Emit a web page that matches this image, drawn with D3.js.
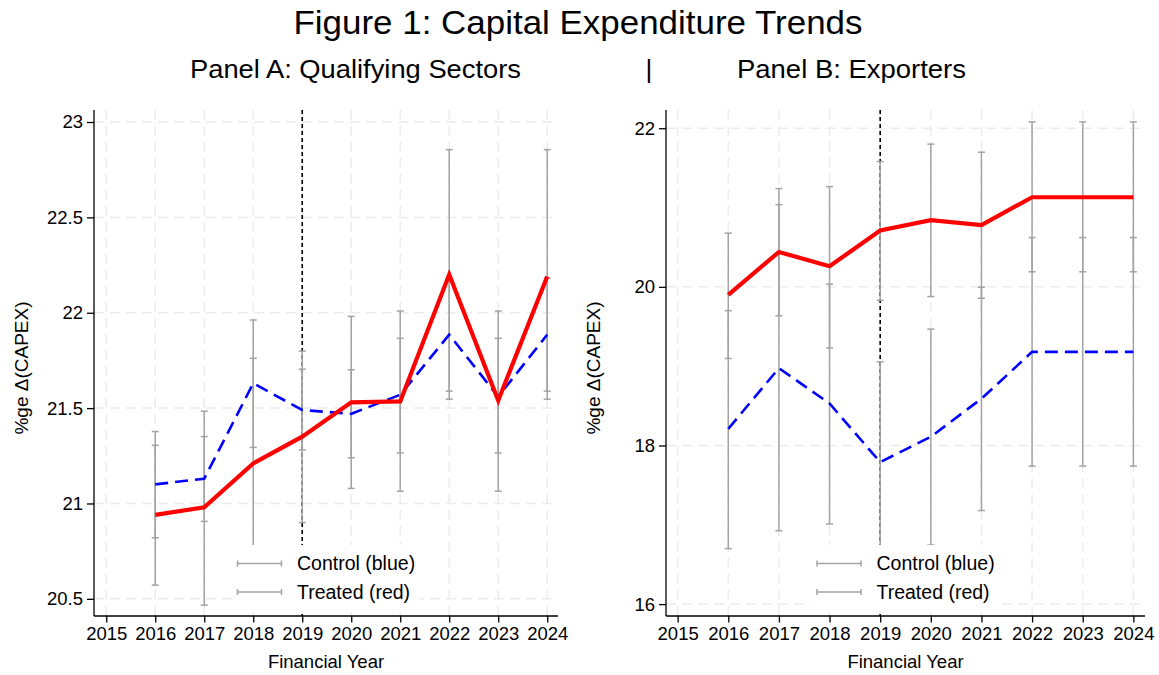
<!DOCTYPE html>
<html>
<head>
<meta charset="utf-8">
<script src="https://cdn.jsdelivr.net/npm/d3@7"></script>
<style>
  body { margin: 0; background: #fff; }
  text { font-family: "Liberation Sans", Arial, sans-serif; fill: #000; }
</style>
</head>
<body>
<div class="chart"></div>
<script>
// data
var years = [2016, 2017, 2018, 2019, 2020, 2021, 2022, 2023, 2024];
var xTicks = [2015, 2016, 2017, 2018, 2019, 2020, 2021, 2022, 2023, 2024];

// Panel A: Qualifying Sectors
var ctrlA   = [21.10, 21.13, 21.63, 21.49, 21.47, 21.57, 21.885, 21.56, 21.885];
var ctrlALo = [20.82, 20.906, 21.294, 21.281, 21.24, 21.265, 21.589, 21.265, 21.589];
var ctrlAHi = [21.377, 21.351, 21.962, 21.704, 21.701, 21.866, 22.181, 21.866, 22.181];
var treatA   = [20.94, 20.98, 21.21, 21.35, 21.53, 21.535, 22.20, 21.54, 22.19];
var treatALo = [20.572, 20.467, 20.653, 20.90, 21.079, 21.064, 21.547, 21.064, 21.547];
var treatAHi = [21.305, 21.484, 21.761, 21.799, 21.981, 22.009, 22.855, 22.009, 22.855];
var yTicksA = [20.5, 21, 21.5, 22, 22.5, 23];

// Panel B: Exporters
var ctrlB   = [18.21, 18.975, 18.53, 17.79, 18.11, 18.59, 19.18, 19.18, 19.18];
var ctrlBLo = [16.70, 16.925, 17.01, 16.525, 16.745, 17.18, 17.74, 17.74, 17.74];
var ctrlBHi = [19.70, 21.037, 20.034, 19.055, 19.467, 19.996, 20.622, 20.622, 20.622];
var treatB   = [19.90, 20.44, 20.26, 20.71, 20.84, 20.78, 21.13, 21.13, 21.13];
var treatBLo = [19.097, 19.635, 19.23, 19.83, 19.878, 19.857, 20.19, 20.19, 20.19];
var treatBHi = [20.677, 21.239, 21.264, 21.58, 21.80, 21.698, 22.08, 22.08, 22.08];
var yTicksB = [16, 18, 20, 22];

var legendLabels = ["Control (blue)", "Treated (red)"];
var eventYear = 2019;

var svgWidth = 1159;
var svgHeight = 675;

var svg = d3.select(".chart")
    .append("svg")
    .attr("width", svgWidth)
    .attr("height", svgHeight);

// titles
svg.append("text")
    .attr("x", 578)
    .attr("y", 34)
    .attr("text-anchor", "middle")
    .style("font-size", "34px")
    .attr("textLength", 569)
    .attr("lengthAdjust", "spacingAndGlyphs")
    .text("Figure 1: Capital Expenditure Trends");

svg.append("text")
    .attr("x", 355.5)
    .attr("y", 78)
    .attr("text-anchor", "middle")
    .style("font-size", "26px")
    .attr("textLength", 331)
    .attr("lengthAdjust", "spacingAndGlyphs")
    .text("Panel A: Qualifying Sectors");

svg.append("text")
    .attr("x", 649)
    .attr("y", 78)
    .attr("text-anchor", "middle")
    .style("font-size", "26px")
    .text("|");

svg.append("text")
    .attr("x", 851.5)
    .attr("y", 78)
    .attr("text-anchor", "middle")
    .style("font-size", "26px")
    .attr("textLength", 229)
    .attr("lengthAdjust", "spacingAndGlyphs")
    .text("Panel B: Exporters");

function drawPanel(p) {
    var x = d3.scaleLinear().domain(p.xDomain).range([p.left, p.right]);
    var y = d3.scaleLinear().domain(p.yDomain).range([p.bottom, p.top]);
    var g = svg.append("g");

    // dashed grid
    g.selectAll(".hgrid")
        .data(p.yTicks)
        .enter()
        .append("line")
        .attr("x1", p.left)
        .attr("x2", p.right)
        .attr("y1", d => y(d))
        .attr("y2", d => y(d))
        .attr("stroke", "#ececec")
        .attr("stroke-width", 1.5)
        .attr("stroke-dasharray", "10,6");

    g.selectAll(".vgrid")
        .data(xTicks)
        .enter()
        .append("line")
        .attr("x1", d => x(d))
        .attr("x2", d => x(d))
        .attr("y1", p.top)
        .attr("y2", p.bottom)
        .attr("stroke", "#ececec")
        .attr("stroke-width", 1.5)
        .attr("stroke-dasharray", "10,6");

    // event line
    g.append("line")
        .attr("x1", x(eventYear))
        .attr("x2", x(eventYear))
        .attr("y1", p.top)
        .attr("y2", p.bottom)
        .attr("stroke", "#000")
        .attr("stroke-width", 1.6)
        .attr("stroke-dasharray", "4,3");

    // error bars
    function bars(lo, hi) {
        years.forEach(function(yr, i) {
            var cx = x(yr);
            g.append("line")
                .attr("x1", cx).attr("x2", cx)
                .attr("y1", y(lo[i])).attr("y2", y(hi[i]))
                .attr("stroke", "#a3a3a3")
                .attr("stroke-width", 1.5);
            [lo[i], hi[i]].forEach(function(v) {
                g.append("line")
                    .attr("x1", cx - 3.5).attr("x2", cx + 3.5)
                    .attr("y1", y(v)).attr("y2", y(v))
                    .attr("stroke", "#a3a3a3")
                    .attr("stroke-width", 1.5);
            });
        });
    }
    bars(p.ctrlLo, p.ctrlHi);
    bars(p.treatLo, p.treatHi);

    var line = d3.line()
        .x(d => x(d[0]))
        .y(d => y(d[1]));

    g.append("path")
        .datum(years.map((yr, i) => [yr, p.ctrl[i]]))
        .attr("d", line)
        .attr("fill", "none")
        .attr("stroke", "#0000ff")
        .attr("stroke-width", 2.6)
        .attr("stroke-dasharray", "13,7");

    g.append("path")
        .datum(years.map((yr, i) => [yr, p.treat[i]]))
        .attr("d", line)
        .attr("fill", "none")
        .attr("stroke", "#ff0000")
        .attr("stroke-width", 4.2)
        .attr("stroke-linejoin", "miter");

    // axes
    var leftAxis = d3.axisLeft(y)
        .tickValues(p.yTicks)
        .tickSize(7)
        .tickPadding(4)
        .tickFormat(d3.format("~g"));
    var yAxis = g.append("g")
        .attr("transform", `translate(${p.left}, 0)`)
        .call(leftAxis);
    yAxis.select(".domain").attr("d", `M-0,${p.top}V${p.bottom}`);

    var bottomAxis = d3.axisBottom(x)
        .tickValues(xTicks)
        .tickSize(6.5)
        .tickPadding(4)
        .tickFormat(d3.format("d"));
    var xAxis = g.append("g")
        .attr("transform", `translate(0, ${p.bottom})`)
        .call(bottomAxis);
    xAxis.select(".domain").attr("d", `M${p.left},0H${p.right}`);

    [yAxis, xAxis].forEach(function(a) {
        a.select(".domain").attr("stroke", "#000").attr("stroke-width", 1.3);
        a.selectAll(".tick line").attr("stroke", "#000").attr("stroke-width", 1.3);
        a.selectAll(".tick text")
            .style("font-size", "18.5px")
            .style("font-family", "'Liberation Sans', Arial, sans-serif")
            .attr("fill", "#000");
    });

    // axis titles
    var cx = (p.left + p.right) / 2;
    g.append("text")
        .attr("x", cx)
        .attr("y", 668)
        .attr("text-anchor", "middle")
        .style("font-size", "18.5px")
        .text("Financial Year");

    g.append("text")
        .attr("transform", `translate(${p.left - 66}, ${(p.top + p.bottom) / 2 + 5}) rotate(-90)`)
        .attr("text-anchor", "middle")
        .style("font-size", "19px")
        .text("%ge \u0394(CAPEX)");

    // legend
    var leg = g.append("g");
    leg.append("rect")
        .attr("x", cx - 94)
        .attr("y", 545)
        .attr("width", 188)
        .attr("height", 67)
        .attr("fill", "#fff");

    legendLabels.forEach(function(lab, i) {
        var ly = 563.5 + i * 28.5;
        var x0 = cx - 88.5, x1 = cx - 44.5;
        leg.append("line")
            .attr("x1", x0).attr("x2", x1)
            .attr("y1", ly).attr("y2", ly)
            .attr("stroke", "#a3a3a3")
            .attr("stroke-width", 1.5);
        [x0, x1].forEach(function(xx) {
            leg.append("line")
                .attr("x1", xx).attr("x2", xx)
                .attr("y1", ly - 3).attr("y2", ly + 3)
                .attr("stroke", "#a3a3a3")
                .attr("stroke-width", 1.5);
        });
        leg.append("text")
            .attr("x", cx - 29)
            .attr("y", ly + 6.5)
            .style("font-size", "19.5px")
            .text(lab);
    });
}

drawPanel({
    left: 94, right: 558, top: 110, bottom: 616,
    xDomain: [2014.75, 2024.22], yDomain: [20.41, 23.063],
    yTicks: yTicksA,
    ctrl: ctrlA, ctrlLo: ctrlALo, ctrlHi: ctrlAHi,
    treat: treatA, treatLo: treatALo, treatHi: treatAHi
});

drawPanel({
    left: 666, right: 1145, top: 110, bottom: 616,
    xDomain: [2014.77, 2024.23], yDomain: [15.85, 22.23],
    yTicks: yTicksB,
    ctrl: ctrlB, ctrlLo: ctrlBLo, ctrlHi: ctrlBHi,
    treat: treatB, treatLo: treatBLo, treatHi: treatBHi
});
</script>
</body>
</html>
